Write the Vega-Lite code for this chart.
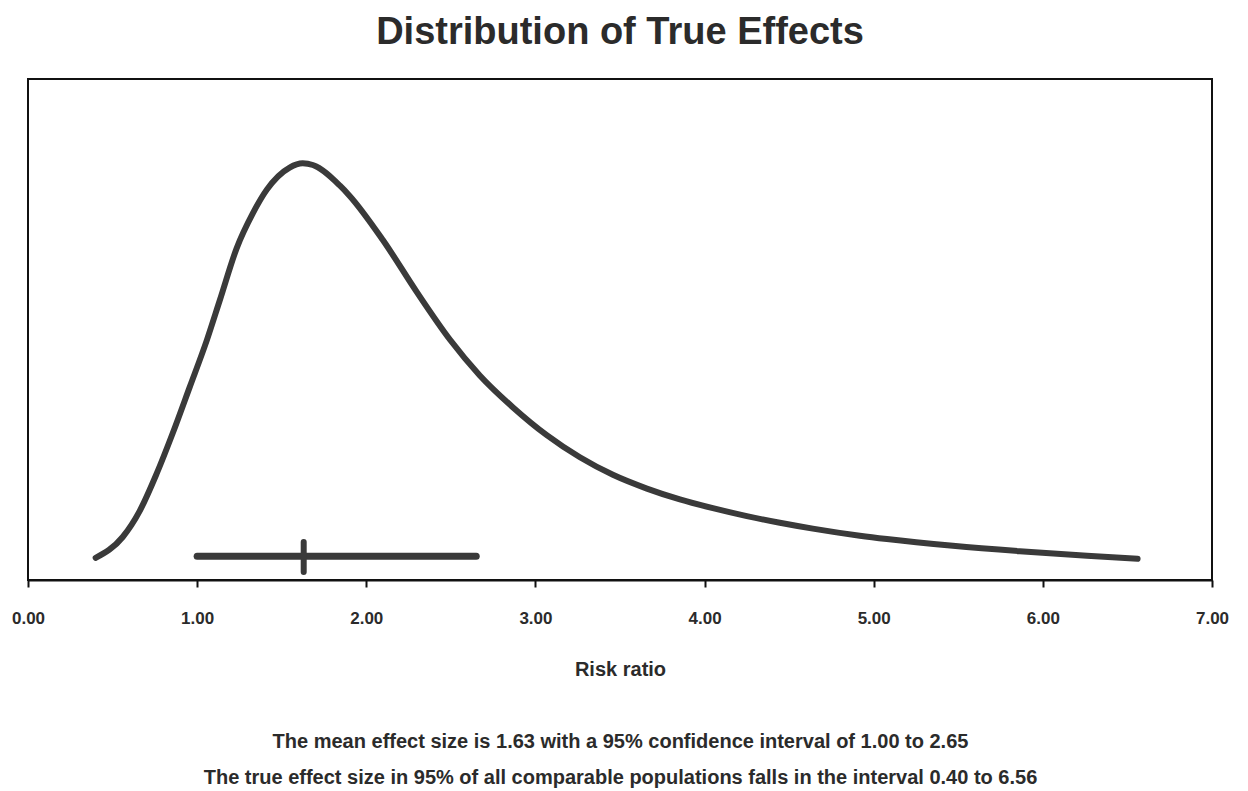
{
  "$schema": "https://vega.github.io/schema/vega-lite/v6.json",
  "width": 1184,
  "height": 501,
  "autosize": {"type": "none"},
  "padding": {"left": 28, "top": 79, "right": 36, "bottom": 211},
  "background": "#ffffff",
  "title": {
    "text": "Distribution of True Effects",
    "font": "Liberation Sans",
    "fontSize": 38,
    "fontWeight": "bold",
    "color": "#2b2b2b",
    "anchor": "middle",
    "offset": 27
  },
  "config": {
    "view": {"stroke": "#111111", "strokeWidth": 2},
    "font": "Liberation Sans"
  },
  "datasets": {
    "curve": [
      {"rr": 0.40, "density": 0.053},
      {"rr": 0.56, "density": 0.103},
      {"rr": 0.66, "density": 0.165},
      {"rr": 0.76, "density": 0.254},
      {"rr": 0.856, "density": 0.352},
      {"rr": 0.956, "density": 0.462},
      {"rr": 1.057, "density": 0.574},
      {"rr": 1.134, "density": 0.670},
      {"rr": 1.234, "density": 0.795},
      {"rr": 1.329, "density": 0.878},
      {"rr": 1.412, "density": 0.935},
      {"rr": 1.547, "density": 0.988},
      {"rr": 1.624, "density": 0.998},
      {"rr": 1.684, "density": 0.994},
      {"rr": 1.843, "density": 0.945},
      {"rr": 1.902, "density": 0.920},
      {"rr": 2.097, "density": 0.815},
      {"rr": 2.298, "density": 0.690},
      {"rr": 2.494, "density": 0.576},
      {"rr": 2.671, "density": 0.490},
      {"rr": 2.866, "density": 0.414},
      {"rr": 3.067, "density": 0.347},
      {"rr": 3.263, "density": 0.294},
      {"rr": 3.458, "density": 0.252},
      {"rr": 3.659, "density": 0.219},
      {"rr": 3.854, "density": 0.193},
      {"rr": 4.049, "density": 0.172},
      {"rr": 4.250, "density": 0.153},
      {"rr": 4.445, "density": 0.137},
      {"rr": 4.640, "density": 0.123},
      {"rr": 4.918, "density": 0.106},
      {"rr": 5.078, "density": 0.098},
      {"rr": 5.468, "density": 0.082},
      {"rr": 5.864, "density": 0.069},
      {"rr": 6.261, "density": 0.058},
      {"rr": 6.56, "density": 0.051}
    ],
    "ci": [{"lower": 1.00, "upper": 2.65, "level": 0.057}],
    "mean": [{"estimate": 1.63, "low": 0.019, "high": 0.091}]
  },
  "layer": [
    {
      "data": {"name": "curve"},
      "mark": {"type": "line", "color": "#3a3a3a", "strokeWidth": 6, "strokeCap": "round", "strokeJoin": "round", "interpolate": "monotone"},
      "encoding": {
        "x": {
          "field": "rr", "type": "quantitative",
          "scale": {"domain": [0, 7], "nice": false, "zero": true},
          "axis": {
            "values": [0, 1, 2, 3, 4, 5, 6, 7],
            "format": ".2f",
            "grid": false,
            "domainColor": "#111111",
            "domainWidth": 2,
            "tickColor": "#111111",
            "tickWidth": 2,
            "tickSize": 7,
            "labelPadding": 23,
            "labelFont": "Liberation Sans",
            "labelFontSize": 17,
            "labelFontWeight": "bold",
            "labelColor": "#2b2b2b",
            "labelFlush": false,
            "labelOverlap": false,
            "title": ["Risk ratio", "\u200b", "The mean effect size is 1.63 with a 95% confidence interval of 1.00 to 2.65", "The true effect size in 95% of all comparable populations falls in the interval 0.40 to 6.56"],
            "titleFont": "Liberation Sans",
            "titleFontSize": 20,
            "titleFontWeight": "bold",
            "titleColor": "#2b2b2b",
            "titleLineHeight": 36,
            "titlePadding": 33
          }
        },
        "y": {
          "field": "density", "type": "quantitative",
          "scale": {"domain": [0, 1.2], "nice": false, "zero": true},
          "axis": null
        }
      }
    },
    {
      "data": {"name": "ci"},
      "mark": {"type": "rule", "color": "#3a3a3a", "strokeWidth": 7, "strokeCap": "round"},
      "encoding": {
        "x": {"field": "lower", "type": "quantitative"},
        "x2": {"field": "upper"},
        "y": {"field": "level", "type": "quantitative"}
      }
    },
    {
      "data": {"name": "mean"},
      "mark": {"type": "rule", "color": "#3a3a3a", "strokeWidth": 6, "strokeCap": "round"},
      "encoding": {
        "x": {"field": "estimate", "type": "quantitative"},
        "y": {"field": "low", "type": "quantitative"},
        "y2": {"field": "high"}
      }
    }
  ]
}
